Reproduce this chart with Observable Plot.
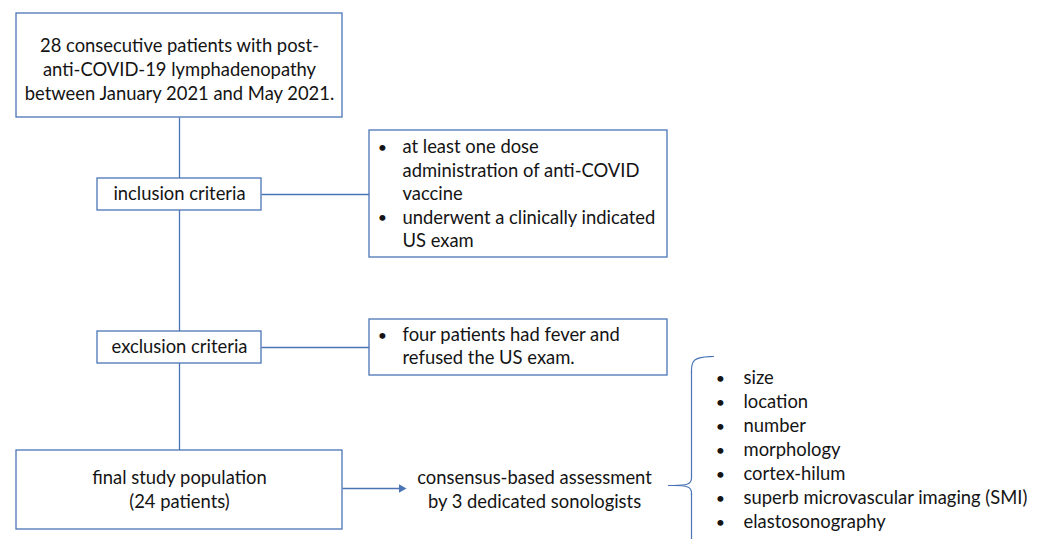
<!DOCTYPE html>
<html>
<head>
<meta charset="utf-8">
<script src="https://cdn.jsdelivr.net/npm/d3@7"></script>
<script src="https://cdn.jsdelivr.net/npm/@observablehq/plot@0.6"></script>
<style>
  html, body { margin: 0; padding: 0; background: #ffffff; }
  #chart svg { display: block; }
</style>
</head>
<body>
<div id="chart"></div>
<script>
// ---- Content (text of the flowchart) ----
const startLines = ["28 consecutive patients with post-", "anti-COVID-19 lymphadenopathy", "between January 2021 and May 2021."];
const inclusionLabel = ["inclusion criteria"];
const inclusionItems = [["at least one dose", "administration of anti-COVID", "vaccine"], ["underwent a clinically indicated", "US exam"]];
const exclusionLabel = ["exclusion criteria"];
const exclusionItems = [["four patients had fever and", "refused the US exam."]];
const finalLines = ["final study population", "(24 patients)"];
const assessmentLines = ["consensus-based assessment", "by 3 dedicated sonologists"];
const assessedFeatures = ["size", "location", "number", "morphology", "cortex-hilum", "superb microvascular imaging (SMI)", "elastosonography"];

// ---- Layout (page coordinates of the diagram) ----
const W = 1043, H = 539;
const BLUE = "#4a74b6";
const INK = "#141414";
const FONT = "Lato, 'Open Sans', sans-serif";
const FS = 18.4;

const boxes = [
  {id: "start",     x1: 16,  x2: 342, y1: 13,  y2: 117},
  {id: "incl",      x1: 97,  x2: 261, y1: 178, y2: 210},
  {id: "inclList",  x1: 369, x2: 667, y1: 130, y2: 257},
  {id: "excl",      x1: 97,  x2: 261, y1: 331, y2: 363},
  {id: "exclList",  x1: 369, x2: 667, y1: 319, y2: 375},
  {id: "final",     x1: 16,  x2: 342, y1: 450, y2: 529}
];
const connectors = [
  {x1: 179, y1: 117, x2: 179, y2: 450},
  {x1: 261, y1: 194, x2: 369, y2: 194},
  {x1: 261, y1: 347, x2: 369, y2: 347}
];
const arrowLink = [{x1: 342, y1: 488, x2: 399, y2: 488}];
const arrowHead = [{x: 401, y: 488}];

// brace pieces (drawn with a smooth curve)
const brace = [
  {p: 0, x: 713, y: 356}, {p: 0, x: 691, y: 357}, {p: 0, x: 691, y: 372},
  {p: 1, x: 691, y: 372}, {p: 1, x: 691, y: 476},
  {p: 2, x: 691, y: 476}, {p: 2, x: 691, y: 485}, {p: 2, x: 668, y: 485},
  {p: 3, x: 668, y: 485}, {p: 3, x: 691, y: 485}, {p: 3, x: 691, y: 494},
  {p: 4, x: 691, y: 494}, {p: 4, x: 691, y: 540}
];

// text rows
function centered(lines, cx, y0, step) {
  return lines.map((t, i) => ({x: cx, y: y0 + i * step, text: t}));
}
function bulletRows(items, bx, tx, y0, step) {
  const bullets = [], texts = [];
  let k = 0;
  items.forEach(item => {
    item.forEach((t, j) => {
      const y = y0 + k * step;
      if (j === 0) bullets.push({x: bx, y, text: "•"});
      texts.push({x: tx, y, text: t});
      k++;
    });
  });
  return {bullets, texts};
}

const centerRows = [
  ...centered(startLines, 179, 46, 24),
  ...centered(inclusionLabel, 179, 194, 24),
  ...centered(exclusionLabel, 179, 347, 24),
  ...centered(finalLines, 179, 478, 24),
  ...centered(assessmentLines, 534, 478, 24)
];
const inc = bulletRows(inclusionItems, 382, 402, 147, 23.4);
const exc = bulletRows(exclusionItems, 382, 402, 335, 22.5);
const feat = bulletRows(assessedFeatures.map(f => [f]), 720, 743, 378, 24);
const bulletMarks = [...inc.bullets, ...exc.bullets, ...feat.bullets];
const leftRows = [...inc.texts, ...exc.texts, ...feat.texts];

const chart = Plot.plot({
  width: W,
  height: H,
  margin: 0,
  style: {background: "#ffffff", fontFamily: FONT},
  x: {domain: [0, W], range: [0, W], axis: null},
  y: {domain: [0, H], range: [0, H], axis: null},
  marks: [
    Plot.link(connectors, {x1: "x1", y1: "y1", x2: "x2", y2: "y2", stroke: BLUE, strokeWidth: 1.3}),
    Plot.rect(boxes, {x1: "x1", x2: "x2", y1: "y1", y2: "y2", fill: "white", stroke: BLUE, strokeWidth: 1.3}),
    Plot.link(arrowLink, {x1: "x1", y1: "y1", x2: "x2", y2: "y2", stroke: BLUE, strokeWidth: 1.3}),
    Plot.dot(arrowHead, {x: "x", y: "y", symbol: "triangle", r: 3.2, fill: BLUE, stroke: "none", rotate: 90}),
    Plot.line(brace, {x: "x", y: "y", z: "p", curve: "basis", stroke: BLUE, strokeWidth: 1.2}),
    Plot.text(centerRows, {x: "x", y: "y", text: "text", textAnchor: "middle", fontSize: FS, fill: INK}),
    Plot.text(leftRows, {x: "x", y: "y", text: "text", textAnchor: "start", fontSize: FS, fill: INK}),
    Plot.text(bulletMarks, {x: "x", y: "y", text: "text", textAnchor: "middle", fontSize: 16, fill: INK})
  ]
});
document.getElementById("chart").appendChild(chart);
</script>
</body>
</html>
